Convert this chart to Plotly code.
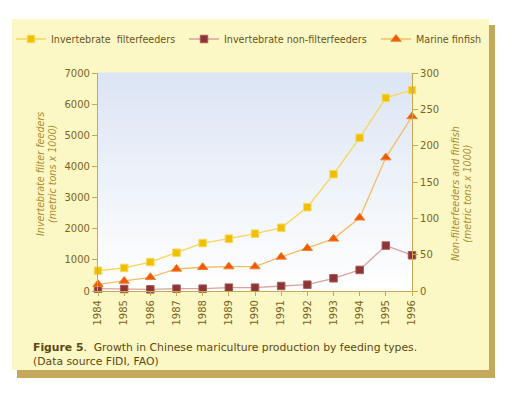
import plotly.graph_objects as go

years = [1984, 1985, 1986, 1987, 1988, 1989, 1990, 1991, 1992, 1993, 1994, 1995, 1996]
filterfeeders = [650, 740, 930, 1230, 1540, 1680, 1840, 2030, 2690, 3750, 4920, 6200, 6450]
non_filterfeeders = [3.2, 2.8, 2.3, 3.2, 3.2, 4.6, 4.6, 6.9, 8.7, 17.5, 29, 62.5, 49.2]
marine_finfish = [9.2, 13.8, 18.9, 30.4, 32.7, 33.6, 33.6, 46.9, 58.9, 71.8, 100.8, 183.6, 240.2]

left_ticks = [0, 1000, 2000, 3000, 4000, 5000, 6000, 7000]
right_ticks = [0, 50, 100, 150, 200, 250, 300]

W, H = 525, 405
OFF = 8  # page body margin
L, R, T, B = 98, 412, 73, 291
PW, PH = R - L, B - T


def px(x):
    return (x - L) / PW


def py(y):
    return (B - y) / PH


FONT = "DejaVu Sans"
AXIS_COL = "#c8a850"
TICK_COL = "#7d6419"
TITLE_COL = "#b08c2c"

fig = go.Figure()
fig.add_trace(go.Scatter(
    x=years, y=filterfeeders, name="Invertebrate  filterfeeders", mode="lines+markers",
    line=dict(color="#f6d65a", width=1.3),
    marker=dict(symbol="square", size=7.5, color="#f0c000", line=dict(color="#f8d860", width=1)),
    yaxis="y", cliponaxis=False, legend="legend"))
fig.add_trace(go.Scatter(
    x=years, y=non_filterfeeders, name="Invertebrate non-filterfeeders", mode="lines+markers",
    line=dict(color="#d9a3a0", width=1.3),
    marker=dict(symbol="square", size=7.5, color="#8b3535", line=dict(color="#a85a5a", width=1)),
    yaxis="y2", cliponaxis=False, legend="legend2"))
fig.add_trace(go.Scatter(
    x=years, y=marine_finfish, name="Marine finfish", mode="lines+markers",
    line=dict(color="#f6bc64", width=1.3),
    marker=dict(symbol="triangle-up", size=9, color="#ee5a00", line=dict(color="#f08030", width=1)),
    yaxis="y2", cliponaxis=False, legend="legend3"))

shapes = []
# shadow and panel
shapes.append(dict(type="rect", xref="paper", yref="paper", x0=px(17), x1=px(495), y0=py(378), y1=py(25),
                   fillcolor="#c4a85c", line=dict(width=0), layer="below"))
shapes.append(dict(type="rect", xref="paper", yref="paper", x0=px(12), x1=px(489), y0=py(370), y1=py(19),
                   fillcolor="#fcf8c6", line=dict(width=0), layer="below"))
# gradient plot background
n = 60
top = (220, 229, 245)
for i in range(n):
    f = i / (n - 1)
    c = tuple(int(round(top[k] + (255 - top[k]) * f)) for k in range(3))
    shapes.append(dict(type="rect", xref="paper", yref="paper", x0=0, x1=1,
                       y0=1 - (i + 1) / n, y1=1 - i / n + 0.002,
                       fillcolor="rgb(%d,%d,%d)" % c, line=dict(width=0), layer="below"))

annotations = [
    dict(text="<i>Invertebrate filter feeders<br>(metric tons x 1000)</i>", xref="paper", yref="paper",
         x=px(46), y=py(174), textangle=-90, showarrow=False, xanchor="center", yanchor="middle",
         font=dict(family=FONT, size=9.6, color=TITLE_COL)),
    dict(text="<i>Non-filterfeeders and finfish<br>(metric tons x 1000)</i>", xref="paper", yref="paper",
         x=px(461), y=py(194), textangle=-90, showarrow=False, xanchor="center", yanchor="middle",
         font=dict(family=FONT, size=9.6, color=TITLE_COL)),
    dict(text="<b>Figure 5</b>.\u00a0 Growth in Chinese mariculture production by feeding types.<br>(Data source FIDI, FAO)",
         xref="paper", yref="paper", x=px(31), y=py(339), xanchor="left", yanchor="top", align="left",
         showarrow=False, font=dict(family=FONT, size=10.8, color="#5e4810")),
]

legend_common = dict(orientation="h", yanchor="middle", y=py(39), xanchor="left",
                     bgcolor="rgba(0,0,0,0)", borderwidth=0, visible=True,
                     font=dict(family=FONT, size=9.6, color="#6a5518"))

fig.update_layout(
    width=W, height=H,
    margin=dict(l=L - OFF, r=W - R + OFF, t=T - OFF, b=H - B + OFF, autoexpand=False),
    paper_bgcolor="white", plot_bgcolor="rgba(0,0,0,0)",
    font=dict(family=FONT),
    showlegend=True,
    shapes=shapes, annotations=annotations,
    legend=dict(x=px(11), **legend_common),
    legend2=dict(x=px(184), **legend_common),
    legend3=dict(x=px(376), **legend_common),
    xaxis=dict(range=[1984, 1996], tickmode="array", tickvals=years, ticktext=[str(y) for y in years],
               tickangle=-90, ticks="outside", ticklen=4, tickcolor=AXIS_COL, showline=True,
               linecolor=AXIS_COL, linewidth=1.2, showgrid=False, zeroline=False,
               tickfont=dict(family=FONT, size=10, color=TICK_COL)),
    yaxis=dict(range=[0, 7000], tickmode="array", tickvals=left_ticks, ticks="outside", ticklen=5,
               tickcolor=AXIS_COL, showline=True, linecolor=AXIS_COL, linewidth=1.2, showgrid=False,
               zeroline=False, tickfont=dict(family=FONT, size=10, color=TICK_COL)),
    yaxis2=dict(range=[0, 300], tickmode="array", tickvals=right_ticks, overlaying="y", side="right",
                ticks="outside", ticklen=5, tickcolor=AXIS_COL, showline=True, linecolor=AXIS_COL,
                linewidth=1.2, showgrid=False, zeroline=False,
                tickfont=dict(family=FONT, size=10, color=TICK_COL)),
)

fig.write_html("out.html")
